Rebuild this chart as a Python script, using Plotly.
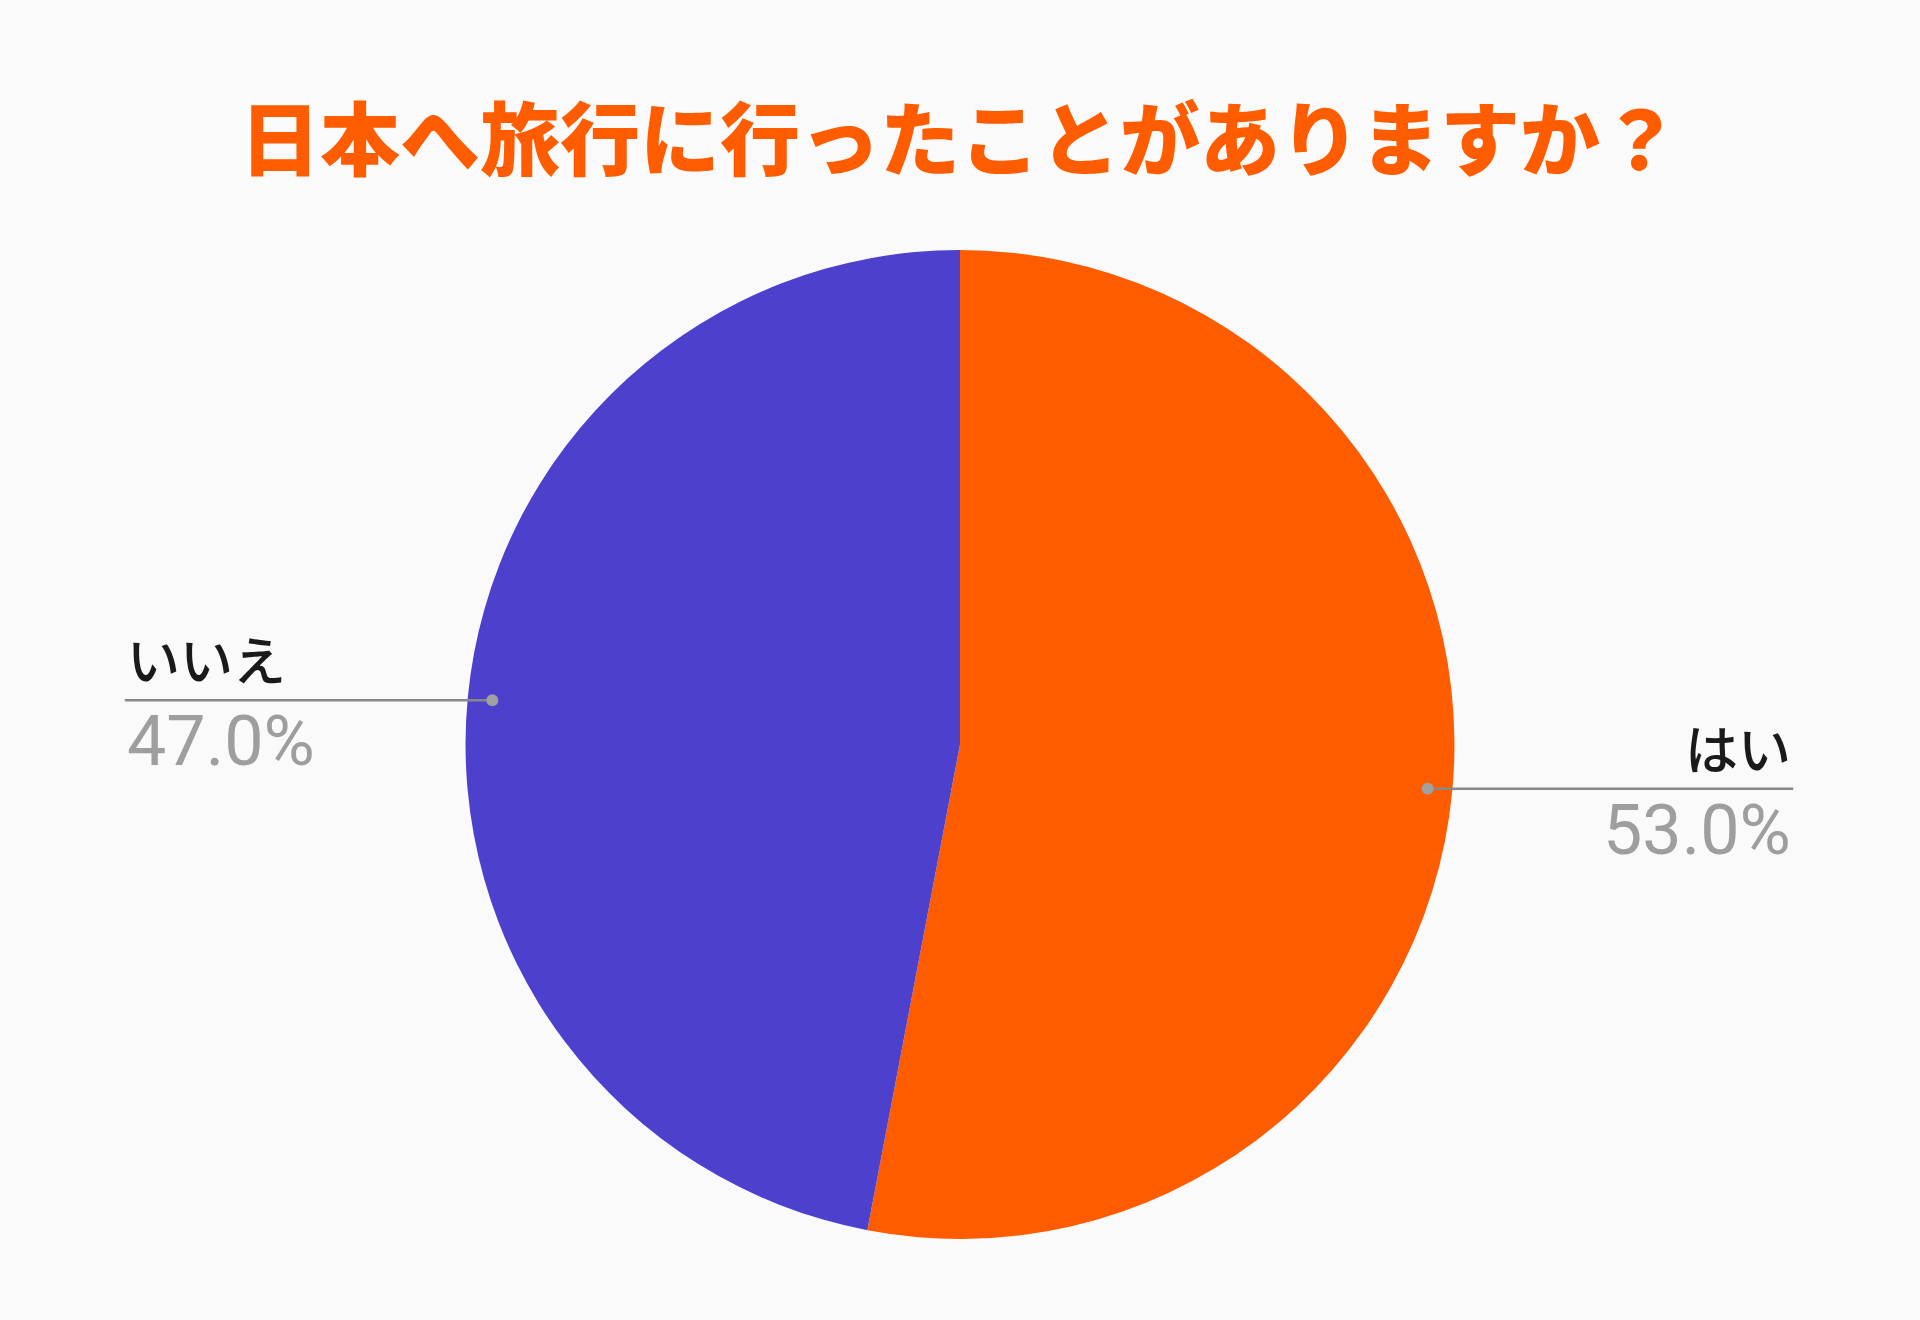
import math
import plotly.graph_objects as go

# dados da pesquisa
labels = ["はい", "いいえ"]
valores = [53.0, 47.0]
cores = ["#FF5C00", "#4D40CC"]
titulo = "日本へ旅行に行ったことがありますか？"

W, H = 1920, 1320
dom_y = [0.0614, 0.8106]
raio = (dom_y[1] - dom_y[0]) * H / 2
cy = (dom_y[0] + dom_y[1]) / 2

fig = go.Figure(go.Pie(
    labels=labels,
    values=valores,
    marker=dict(colors=cores, line=dict(width=0)),
    textinfo="none",
    sort=False,
    direction="clockwise",
    rotation=0,
    hoverinfo="label+percent",
    domain=dict(x=[0, 1], y=dom_y),
    showlegend=False,
))

# linhas de chamada + rótulos fora da pizza
total = sum(valores)
acumulado = 0
shapes = []
annotations = []
for lab, v in zip(labels, valores):
    meio = (acumulado + v / 2) / total * 2 * math.pi
    acumulado += v
    px = 0.5 + 0.95 * raio * math.sin(meio) / W
    py = cy + 0.95 * raio * math.cos(meio) / H
    direita = math.sin(meio) > 0
    fim = 0.934 if direita else 0.065
    anchor = "right" if direita else "left"
    shapes.append(dict(type="line", xref="paper", yref="paper",
                       x0=px, x1=fim, y0=py, y1=py,
                       line=dict(color="#888888", width=2.5)))
    r = 6
    shapes.append(dict(type="circle", xref="paper", yref="paper",
                       x0=px - r / W, x1=px + r / W, y0=py - r / H, y1=py + r / H,
                       fillcolor="#A0A0A0", line=dict(width=0)))
    annotations.append(dict(text=lab, xref="paper", yref="paper", x=fim, y=py,
                            xanchor=anchor, yanchor="bottom", showarrow=False, yshift=2,
                            font=dict(size=53, color="#1A1A1A", family="Noto Sans CJK JP", weight=500)))
    annotations.append(dict(text=f"{v / total * 100:.1f}%", xref="paper", yref="paper", x=fim, y=py,
                            xanchor=anchor, yanchor="top", showarrow=False, yshift=2,
                            font=dict(size=70, color="#9E9E9E", family="Roboto")))

fig.update_layout(
    width=W,
    height=H,
    margin=dict(l=0, r=0, t=0, b=0),
    paper_bgcolor="#FAFAFA",
    plot_bgcolor="#FAFAFA",
    title=dict(text=titulo, x=0.5, xanchor="center", y=0.893, yanchor="middle",
               font=dict(size=80, color="#FF5C00", family="Noto Sans CJK JP", weight=900)),
    shapes=shapes,
    annotations=annotations,
)

# tirar a margem padrão da página
fig.write_html("out.html", config={"displayModeBar": False},
               post_script="document.body.style.margin='0';document.body.style.background='#FAFAFA';")
